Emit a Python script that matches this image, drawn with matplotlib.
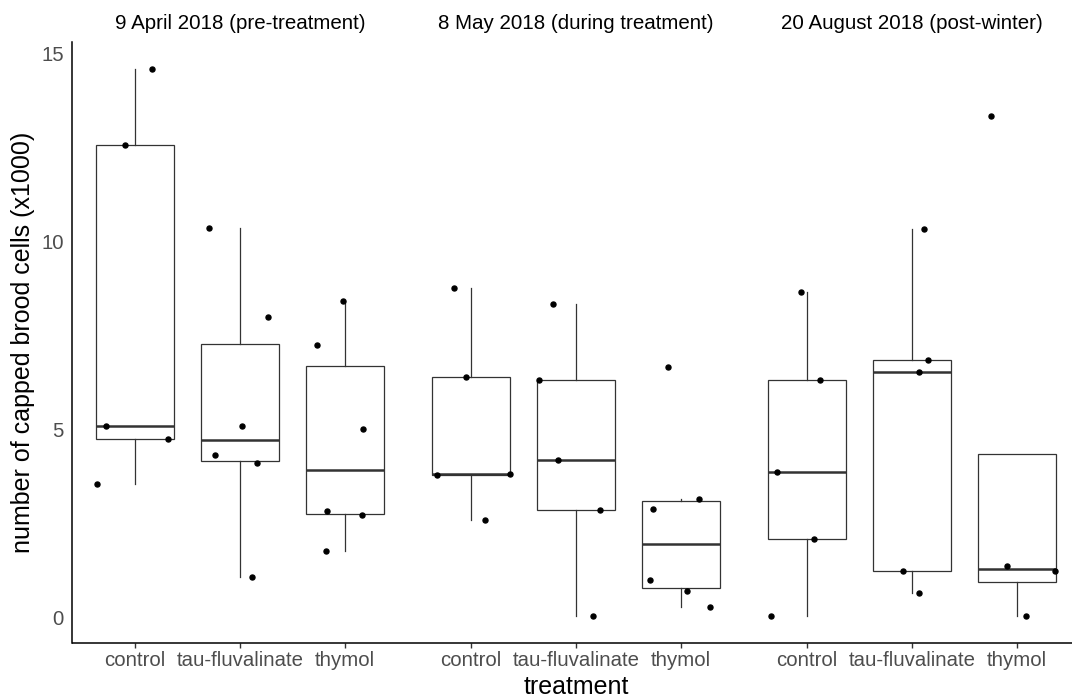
import numpy as np
import matplotlib
matplotlib.use('Agg')
import matplotlib.pyplot as plt

plt.rcParams['font.family'] = ['Liberation Sans', 'DejaVu Sans']

dates = ['9 April 2018 (pre-treatment)', '8 May 2018 (during treatment)',
         '20 August 2018 (post-winter)']
treatments = ['control', 'tau-fluvalinate', 'thymol']

# capped brood cells (x1000), read per colony
april_control = [14.58, 12.56, 5.09, 4.74, 3.55]
april_tau = [10.35, 7.99, 5.09, 4.32, 4.10, 1.08]
april_thymol = [8.41, 7.24, 5.01, 2.83, 2.72, 1.77]
may_control = [8.75, 6.39, 3.79, 3.81, 2.59]
may_tau = [8.33, 6.31, 4.19, 2.86, 0.04]
may_thymol = [6.66, 3.15, 2.88, 0.70, 0.99, 0.28]
aug_control = [8.65, 6.32, 3.87, 2.09, 0.04]
aug_tau = [10.32, 6.84, 6.52, 1.23, 0.65]
aug_thymol = [13.35, 1.35, 1.24, 0.04]

# horizontal jitter of each point as seen in the picture
april_control_dx = [0.16, -0.10, -0.28, 0.31, -0.36]
april_tau_dx = [-0.30, 0.27, 0.02, -0.24, 0.16, 0.11]
april_thymol_dx = [-0.02, -0.27, 0.17, -0.17, 0.16, -0.18]
may_control_dx = [-0.16, -0.05, -0.32, 0.37, 0.13]
may_tau_dx = [-0.22, -0.35, -0.17, 0.23, 0.16]
may_thymol_dx = [-0.12, 0.17, -0.27, 0.06, -0.30, 0.28]
aug_control_dx = [-0.06, 0.12, -0.29, 0.07, -0.34]
aug_tau_dx = [0.11, 0.15, 0.07, -0.09, 0.07]
aug_thymol_dx = [-0.25, -0.10, 0.36, 0.09]

panels = [
    ([april_control, april_tau, april_thymol],
     [april_control_dx, april_tau_dx, april_thymol_dx]),
    ([may_control, may_tau, may_thymol],
     [may_control_dx, may_tau_dx, may_thymol_dx]),
    ([aug_control, aug_tau, aug_thymol],
     [aug_control_dx, aug_tau_dx, aug_thymol_dx]),
]

W, H = 1072, 700
fig = plt.figure(figsize=(W / 100, H / 100), dpi=100)

left, pw = 72, 336
top, bottom = 42, 643
all_vals = np.concatenate([np.concatenate(p[0]) for p in panels])
lo, hi = all_vals.min(), all_vals.max()
pad = 0.05 * (hi - lo)

grey = '#333333'
for i, (vals, dxs) in enumerate(panels):
    ax = fig.add_axes([(left + i * pw) / W, (H - bottom) / H,
                       pw / W, (bottom - top) / H])
    pos = np.arange(1, 4)
    ax.boxplot(vals, positions=pos, widths=0.75, showfliers=False,
               patch_artist=True, whis=1.5,
               boxprops=dict(facecolor='white', edgecolor=grey, linewidth=0.9),
               whiskerprops=dict(color=grey, linewidth=0.9),
               capprops=dict(linewidth=0),
               medianprops=dict(color=grey, linewidth=1.8),
               zorder=2)
    for j in range(3):
        ax.plot(pos[j] + np.array(dxs[j]), vals[j], 'o', color='black',
                markersize=3.6, zorder=3)
    ax.set_xlim(0.4, 3.6)
    ax.set_ylim(lo - pad, hi + pad)
    ax.set_xticks(pos)
    ax.set_xticklabels(treatments)
    ax.tick_params(axis='x', length=3.6, width=1.0, color=grey,
                   labelsize=14.7, labelcolor='#4D4D4D', pad=2.5)
    for s in ['top', 'right']:
        ax.spines[s].set_visible(False)
    ax.spines['bottom'].set_linewidth(1.1)
    ax.spines['bottom'].set_capstyle('butt')
    if i == 0:
        ax.spines['left'].set_linewidth(1.1)
        ax.set_yticks([0, 5, 10, 15])
        ax.tick_params(axis='y', length=0, labelsize=14.7,
                       labelcolor='#4D4D4D', pad=6)
    else:
        ax.spines['left'].set_visible(False)
        ax.set_yticks([])
    ax.set_title(dates[i], fontsize=14.8, pad=9.5, color='black')

fig.text(576 / W, 0.5 / H, 'treatment', fontsize=18, ha='center',
         va='bottom')
fig.text(23 / W, 1 - 342 / H, 'number of capped brood cells (x1000)',
         fontsize=18, rotation=90, ha='center', va='center')

fig.savefig('out.png', dpi=100)
